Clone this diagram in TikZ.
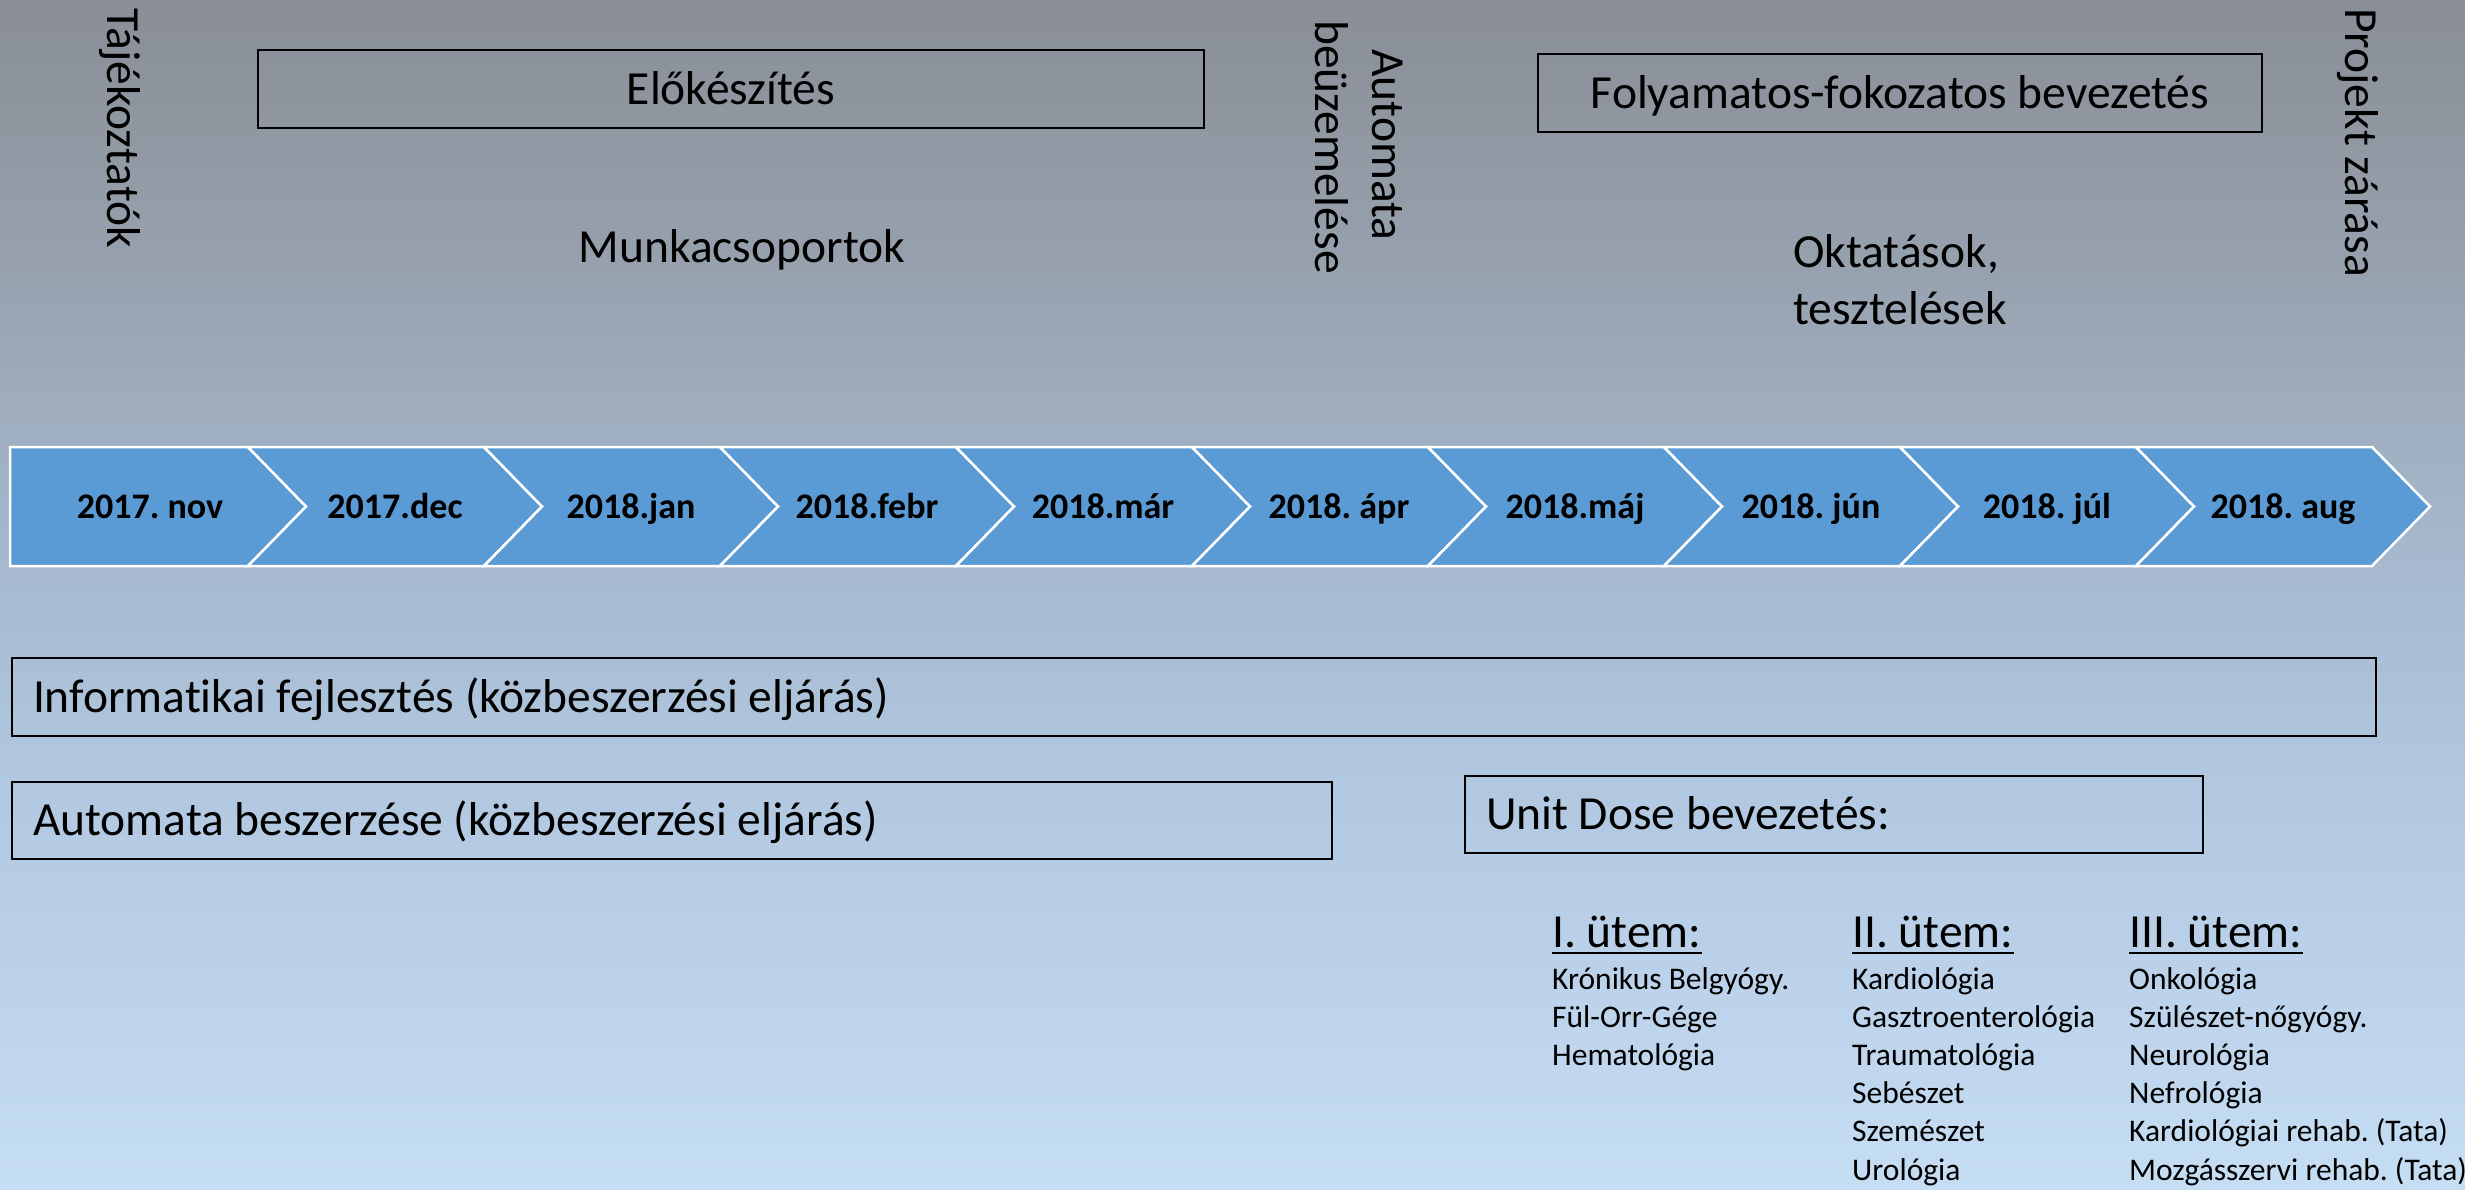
\documentclass[tikz,border=0pt]{standalone}
\usepackage{fontspec}
\setmainfont{Carlito}[Ligatures={NoCommon}]
\newcommand\BigF{\fontsize{47.5}{57}\selectfont}
\newcommand\SmallF{\fontsize{31.5}{38}\selectfont}
\newcommand\ChevF{\fontsize{36}{43}\selectfont\bfseries}
\newcommand\nsp{\spaceskip=0pt\xspaceskip=0pt\relax}
\definecolor{chevblue}{RGB}{91,155,213}
\definecolor{bga}{RGB}{137,142,150}
\definecolor{bgb}{RGB}{150,160,172}
\definecolor{bgc}{RGB}{163,180,200}
\definecolor{bgd}{RGB}{175,198,222}
\definecolor{bge}{RGB}{188,211,235}
\definecolor{bgf}{RGB}{198,222,244}
\pgfdeclareverticalshading{bgshade}{100bp}{color(0bp)=(bgf); color(25bp)=(bgf); color(33bp)=(bge); color(43.5bp)=(bgd); color(54bp)=(bgc); color(64.5bp)=(bgb); color(75bp)=(bga); color(100bp)=(bga)}
\begin{document}
\frenchspacing
\begin{tikzpicture}[x=1pt,y=-1pt,
  box/.style={draw=black, line width=2pt, inner sep=0pt, font=\BigF, text height=30pt, text depth=0pt},
  leftbox/.style={box, inner xsep=21pt, align=left},
  chev/.style={fill=chevblue, draw=white, line width=2.5pt, line join=miter},
  chevlabel/.style={font=\ChevF, anchor=base, inner sep=0pt},
  rottext/.style={font=\BigF, rotate=-90, inner sep=0pt},
  plain/.style={font=\BigF, inner sep=0pt},
  item/.style={font=\SmallF, anchor=base west, inner sep=0pt},
  uline/.style={draw=black, line width=2.2pt},
]
\useasboundingbox (0,0) rectangle (2465,1189);
\shade[shading=bgshade] (0,0) rectangle (2465,1189);

% rotated milestone labels
\node[rottext, anchor=base west] (tajek) at (107,8) {Tájékoztatók};
\node[rottext, anchor=base] (auto1) at (1372,145) {Automata};
\node[rottext, anchor=base] (auto2) at (1315,147) {beüzemelése};
\node[rottext, anchor=base west] (zaras) at (2345,8) {Projekt zárása};

% top boxes and texts
\node[box, minimum width=946pt, minimum height=78pt] (elok) at (731,89) {Előkészítés};
\node[box, minimum width=724pt, minimum height=78pt] (folyam) at (1900,93) {Folyamatos-fokozatos bevezetés};
\node[plain, anchor=base] (munka) at (742,262) {Munkacsoportok};
\node[plain, anchor=base west] (okt1) at (1793,267) {Oktatások,};
\node[plain, anchor=base west] (okt2) at (1793,324) {tesztelések};

% timeline chevrons
\draw[chev] (10,447) -- (248,447) -- (306,506.5) -- (248,566) -- (10,566) -- cycle;
\node[chevlabel] (m0) at (150,518) {2017. nov};
\foreach \k/\lab in {1/{2017.dec},2/{2018.jan},3/{2018.febr},4/{2018.már},5/{2018. ápr},6/{2018.máj},7/{2018. jún},8/{2018. júl},9/{2018. aug}}{
  \pgfmathsetmacro\a{12+236*\k}
  \draw[chev] (\a,447) -- ++(236,0) -- ++(58,59.5) -- ++(-58,59.5) -- ++(-236,0) -- ++(58,-59.5) -- cycle;
  \node[chevlabel] (m\k) at (\a+147,518) {\lab};
}

% lower boxes
\node[leftbox, anchor=north west, minimum width=2364pt, minimum height=78pt, text width=2322pt] (info) at (11,657) {\nsp Informatikai fejlesztés (közbeszerzési eljárás)};
\node[leftbox, anchor=north west, minimum width=1320pt, minimum height=77pt, text width=1278pt] (autobesz) at (11,781) {\nsp Automata beszerzése (közbeszerzési eljárás)};
\node[leftbox, anchor=north west, minimum width=738pt, minimum height=77pt, text width=696pt] (unitdose) at (1464,775) {\nsp Unit Dose bevezetés:};

% phases
\node[plain, anchor=base west] (h1) at (1552,947) {I. ütem:};
\node[plain, anchor=base west] (h2) at (1852,947) {II. ütem:};
\node[plain, anchor=base west] (h3) at (2129,947) {III. ütem:};
\foreach \h in {h1,h2,h3}{
  \draw[uline] ([yshift=-6pt]\h.base west) -- ([yshift=-6pt]\h.base east);
}
\foreach \t [count=\i from 0] in {{Krónikus Belgyógy.},{Fül-Orr-Gége},{Hematológia}}{
  \node[item] (ca\i) at (1552,989+38.2*\i) {\t};
}
\foreach \t [count=\i from 0] in {{Kardiológia},{Gasztroenterológia},{Traumatológia},{Sebészet},{Szemészet},{Urológia}}{
  \node[item] (cb\i) at (1852,989+38.2*\i) {\t};
}
\foreach \t [count=\i from 0] in {{Onkológia},{Szülészet-nőgyógy.},{Neurológia},{Nefrológia},{Kardiológiai rehab. (Tata)},{Mozgásszervi rehab. (Tata)}}{
  \node[item] (cc\i) at (2129,989+38.2*\i) {\t};
}
\end{tikzpicture}
\end{document}
